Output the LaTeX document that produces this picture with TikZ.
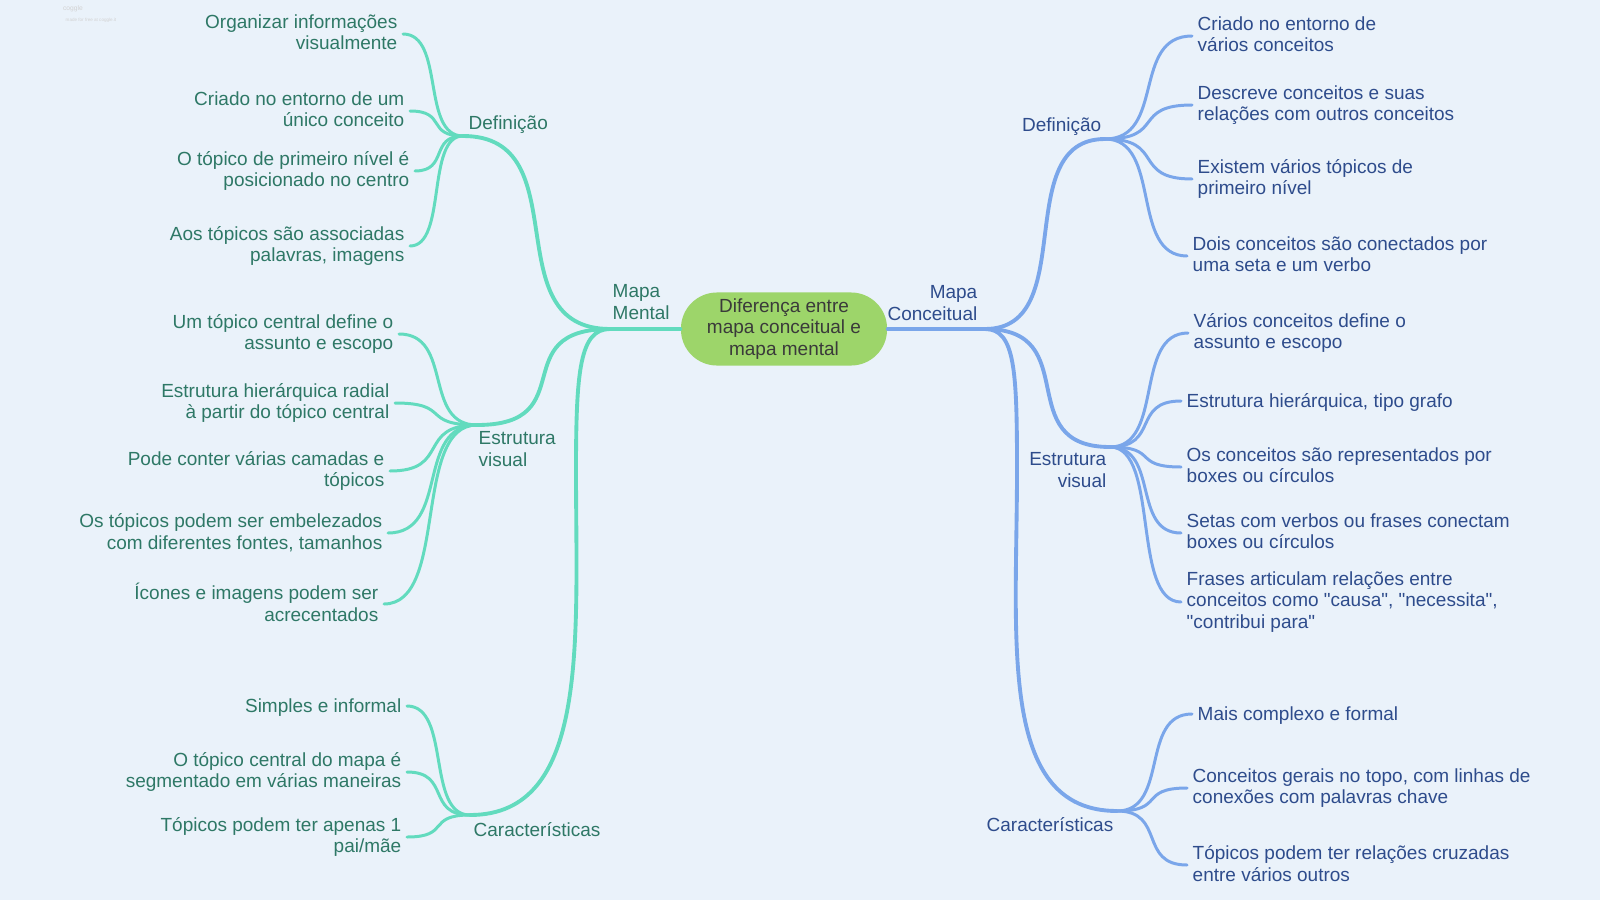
\documentclass[tikz,border=0pt]{standalone}
\usepackage{fontspec}
\setmainfont{Liberation Sans}
\usepackage{xcolor}
\usepackage{tikz}
\usetikzlibrary{positioning,calc}

\definecolor{bgblue}{RGB}{234,242,250}
\definecolor{mentalline}{RGB}{98,219,190}
\definecolor{mentaltext}{RGB}{46,120,102}
\definecolor{concline}{RGB}{122,166,234}
\definecolor{conctext}{RGB}{46,76,140}
\definecolor{topicfill}{RGB}{157,213,106}
\definecolor{topictext}{RGB}{58,58,58}

\newcommand{\mapfont}{\fontsize{5.4}{6.15}\selectfont}
\newcommand{\mapstrut}{\rule[-1pt]{0pt}{5.9pt}}

\tikzset{
	bow/.style={to path={.. controls ($(\tikztostart)!#1!(\tikztotarget |- \tikztostart)$) and ($(\tikztotarget)!#1!(\tikztostart |- \tikztotarget)$) .. (\tikztotarget)}},
	txt/.style={inner xsep=0.05cm, inner ysep=0pt, font=\mapfont, execute at begin node=\mapstrut, execute at end node=\mapstrut},
	leafL/.style={txt, text=mentaltext, anchor=east, align=right},
	leafR/.style={txt, text=conctext, anchor=west, align=left},
	lblL/.style={txt, inner xsep=0pt, text=mentaltext, anchor=west, align=left},
	lblR/.style={txt, inner xsep=0pt, text=conctext, anchor=east, align=right},
	topic/.style={fill=topicfill, rounded corners=0.36cm, minimum width=2.06cm, minimum height=0.73cm, inner sep=0pt, align=center, font=\mapfont, text=topictext, execute at begin node=\mapstrut, execute at end node=\mapstrut},
	twigL/.style={draw=mentalline, line width=0.85pt, line cap=round, bow=0.7},
	twigR/.style={draw=concline, line width=0.85pt, line cap=round, bow=0.7},
	limbL/.style={twigL, line width=1.1pt, bow=0.8},
	limbR/.style={twigR, line width=1.1pt, bow=0.8}
}

\begin{document}
\begin{tikzpicture}[x=0.01cm, y=-0.01cm]
	\fill[bgblue] (0,0) rectangle (1600,900);

	\node[text=gray!35, inner sep=0pt, font=\fontsize{1.9}{2}\selectfont] (logo) at (73,9) {coggle};
	\node[text=gray!35, inner sep=0pt, anchor=west, font=\fontsize{1.3}{1.5}\selectfont] (madefor) at (65,20) {made for free at coggle.it};

	\node[topic] (topic) at (784,329) {Diferença entre\\mapa conceitual e\\mapa mental};

	\begin{scope}
		\coordinate (mm) at (610,329);
		\coordinate (md) at (463,136);
		\coordinate (me) at (477,425);
		\coordinate (mc) at (470,815);
		\coordinate (mbend) at (576,470);

		\node[lblL] (mental) at (612,304) {Mapa\\Mental};
		\node[lblL] (mdef) at (468,123) {Definição};
		\node[lblL] (mest) at (478,451) {Estrutura\\visual};
		\node[lblL] (mcar) at (473,830) {Características};

		\draw[limbL] (topic.west) -- (mm);
		\draw[limbL] (mm) to (md);
		\draw[limbL] (mm) to (me);
		\draw[limbL] (mm) .. controls +(-30,0) and +(0,-100) .. (mbend) .. controls +(0,170) and +(120,0) .. (mc);

		\node[leafL] (md1) at (403,34) {Organizar informações\\visualmente};
		\node[leafL] (md2) at (410,111) {Criado no entorno de um\\único conceito};
		\node[leafL] (md3) at (415,171) {O tópico de primeiro nível é\\posicionado no centro};
		\node[leafL] (md4) at (410,246) {Aos tópicos são associadas\\palavras, imagens};

		\node[leafL] (me1) at (399,334) {Um tópico central define o\\assunto e escopo};
		\node[leafL] (me2) at (395,403) {Estrutura hierárquica radial\\à partir do tópico central};
		\node[leafL] (me3) at (390,471) {Pode conter várias camadas e\\tópicos};
		\node[leafL] (me4) at (388,533) {Os tópicos podem ser embelezados\\com diferentes fontes, tamanhos};
		\node[leafL] (me5) at (384,604) {Ícones e imagens podem ser\\acrecentados};

		\node[leafL] (mc1) at (407,706) {Simples e informal};
		\node[leafL] (mc2) at (407,772) {O tópico central do mapa é\\segmentado em várias maneiras};
		\node[leafL] (mc3) at (407,837) {Tópicos podem ter apenas 1\\pai/mãe};

		\draw[twigL] (md) to (md1.east);
		\draw[twigL] (md) to (md2.east);
		\draw[twigL] (md) to (md3.east);
		\draw[twigL] (md) to (md4.east);
		\draw[twigL] (me) to (me1.east);
		\draw[twigL] (me) to (me2.east);
		\draw[twigL] (me) to (me3.east);
		\draw[twigL] (me) to (me4.east);
		\draw[twigL] (me) to (me5.east);
		\draw[twigL] (mc) to (mc1.east);
		\draw[twigL] (mc) to (mc2.east);
		\draw[twigL] (mc) to (mc3.east);
	\end{scope}

	\begin{scope}
		\coordinate (cm) at (985,329);
		\coordinate (cd) at (1105,139);
		\coordinate (ce) at (1110,447);
		\coordinate (cc) at (1117,811);
		\coordinate (cbend) at (1017,470);

		\node[lblR] (conceitual) at (978,305) {Mapa\\Conceitual};
		\node[lblR] (cdef) at (1102,125) {Definição};
		\node[lblR] (cest) at (1107,472) {Estrutura\\visual};
		\node[lblR] (ccar) at (1114,825) {Características};

		\draw[limbR] (topic.east) -- (cm);
		\draw[limbR] (cm) to (cd);
		\draw[limbR] (cm) to (ce);
		\draw[limbR] (cm) .. controls +(30,0) and +(0,-100) .. (cbend) .. controls +(0,170) and +(-120,0) .. (cc);

		\node[leafR] (cd1) at (1192,36) {Criado no entorno de\\vários conceitos};
		\node[leafR] (cd2) at (1192,105) {Descreve conceitos e suas\\relações com outros conceitos};
		\node[leafR] (cd3) at (1192,179) {Existem vários tópicos de\\primeiro nível};
		\node[leafR] (cd4) at (1187,256) {Dois conceitos são conectados por\\uma seta e um verbo};

		\node[leafR] (ce1) at (1188,333) {Vários conceitos define o\\assunto e escopo};
		\node[leafR] (ce2) at (1181,401) {Estrutura hierárquica, tipo grafo};
		\node[leafR] (ce3) at (1181,467) {Os conceitos são representados por\\boxes ou círculos};
		\node[leafR] (ce4) at (1181,533) {Setas com verbos ou frases conectam\\boxes ou círculos};
		\node[leafR] (ce5) at (1181,602) {Frases articulam relações entre\\conceitos como \textquotedbl causa\textquotedbl, \textquotedbl necessita\textquotedbl,\\\textquotedbl contribui para\textquotedbl};

		\node[leafR] (cc1) at (1192,714) {Mais complexo e formal};
		\node[leafR] (cc2) at (1187,788) {Conceitos gerais no topo, com linhas de\\conexões com palavras chave};
		\node[leafR] (cc3) at (1187,865) {Tópicos podem ter relações cruzadas\\entre vários outros};

		\draw[twigR] (cd) to (cd1.west);
		\draw[twigR] (cd) to (cd2.west);
		\draw[twigR] (cd) to (cd3.west);
		\draw[twigR] (cd) to (cd4.west);
		\draw[twigR] (ce) to (ce1.west);
		\draw[twigR] (ce) to (ce2.west);
		\draw[twigR] (ce) to (ce3.west);
		\draw[twigR] (ce) to (ce4.west);
		\draw[twigR] (ce) to (ce5.west);
		\draw[twigR] (cc) to (cc1.west);
		\draw[twigR] (cc) to (cc2.west);
		\draw[twigR] (cc) to (cc3.west);
	\end{scope}
\end{tikzpicture}
\end{document}
